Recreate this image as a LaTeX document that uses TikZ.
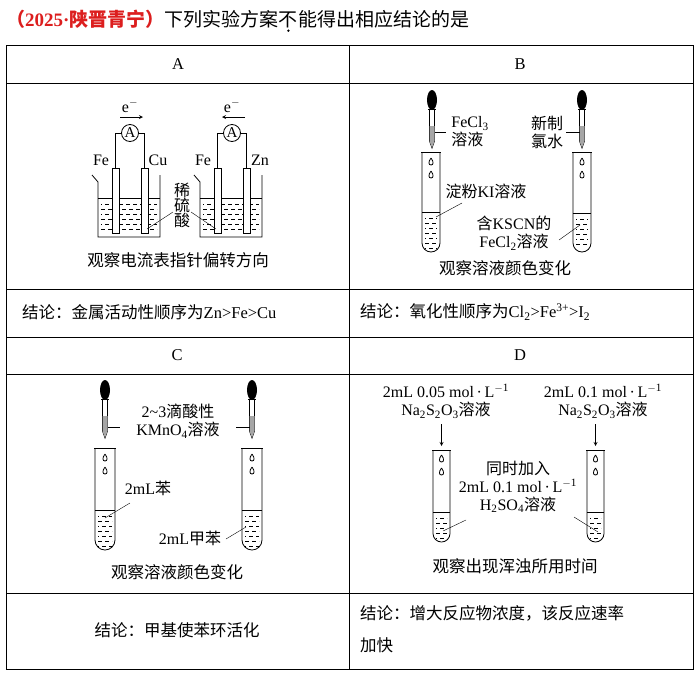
\documentclass[tikz,border=0pt]{standalone}
\usepackage{fontspec}
\setmainfont{Liberation Serif}
\newfontfamily\cn{Noto Sans CJK SC}
\definecolor{titlered}{RGB}{220,30,30}
\newcommand\ttube[4]{%
  \pgfmathsetmacro\rr{(#2-#1)/2}
  \draw[thick] (#1,#3) -- (#1,#4-\rr) arc (180:0:\rr) -- (#2,#3);
  \draw[thick] (#1-1,#3) -- (#2+1,#3);
}
\newcommand\liquid[4]{%
  \draw (#1,#3) -- (#2,#3);
  \pgfmathsetmacro\lqa{#3+6}\pgfmathsetmacro\lqb{#3+11}\pgfmathsetmacro\lqc{#4-4}
  \foreach \yy [count=\k] in {\lqa,\lqb,...,\lqc} {\pgfmathsetmacro\off{mod(\k,2)*3}
    \draw[dash pattern=on 4pt off 3pt,dash phase=\off pt] (#1+3,\yy) -- (#2-3,\yy);}
}
\newcommand\drops[2]{%
  \foreach \dy in {0,13} {\draw[thick] (#1,#2+\dy-4) .. controls (#1+3,#2+\dy) and (#1+2.5,#2+\dy+3) .. (#1,#2+\dy+3) .. controls (#1-2.5,#2+\dy+3) and (#1-3,#2+\dy) .. (#1,#2+\dy-4);}
}
\newcommand\dropper[3]{%
  \fill (#1,#2) ellipse (5 and 10);
  \draw[thick] (#1-2.5,#2+9) -- (#1-2.5,#3-7) -- (#1,#3) -- (#1+2.5,#3-7) -- (#1+2.5,#2+9);
  \draw (#1-4,#2+9) -- (#1+4,#2+9);
  \fill[gray!70] (#1-2.5,#3-22) -- (#1-2.5,#3-7) -- (#1,#3) -- (#1+2.5,#3-7) -- (#1+2.5,#3-22) -- cycle;
}
\newcommand\beaker[4]{%
  \draw[thick] (#1-6,#3-3) -- (#1,#3+4) -- (#1,#4) -- (#2,#4) -- (#2,#3-3);
}
\newcommand\electrode[3]{%
  \draw[thick,fill=white] (#1-3.5,#2) rectangle (#1+3.5,#3);
}
\tikzset{lab/.style={inner sep=0pt,font=\fontsize{16}{18}\selectfont,align=center},
  capt/.style={inner sep=0pt,font=\fontsize{16.5}{19}\selectfont},
  ttl/.style={inner sep=0pt,anchor=base west,font=\fontsize{19}{21}\selectfont},
  amm/.style={circle,draw,thick,fill=white,minimum size=17pt,inner sep=0pt,font=\fontsize{15}{15}\selectfont}}
\begin{document}
\begin{tikzpicture}[x=1pt,y=-1pt]
\useasboundingbox (0,0) rectangle (698,675);
\node[ttl] (t1) at (6,26)
  {\textcolor{titlered}{\bfseries{\cn （}2025·{\cn 陕晋青宁）}}{\cn 下列实验方案}};
\node[ttl] (t2) at (t1.base east) {\cn 不};
\node[ttl] (t3) at (t2.base east) {\cn 能得出相应结论的是};
\fill ([yshift=-3pt]t2.south) circle (1.3);
\draw[thick] (6.5,45) rectangle (693,669);
\foreach \yy in {83,289,337,374,593} \draw (6.5,\yy) -- (693,\yy);
\draw (349,45) -- (349,669);
\node[capt] (hA) at (178,64) {A};
\node[capt] (hB) at (520,64) {B};
\node[capt] (hC) at (177,355) {C};
\node[capt] (hD) at (520,355) {D};
\node[capt,anchor=west] (cA) at (22,312) {{\cn 结论：金属活动性顺序为}Zn>Fe>Cu};
\node[capt,anchor=west] (cB) at (360,312) {{\cn 结论：氧化性顺序为}Cl\textsubscript{2}>Fe\textsuperscript{3+}>I\textsubscript{2}};
\node[capt] (cC) at (177,630) {\cn 结论：甲基使苯环活化};
\node[capt,anchor=west] (cD1) at (360,613) {\cn 结论：增大反应物浓度，该反应速率};
\node[capt,anchor=west] (cD2) at (360,645) {\cn 加快};
% ---- A ----
\foreach \ox/\la/\lb in {0/Fe/Cu,102/Fe/Zn}{
  \begin{scope}[xshift=\ox]
  \liquid{98}{160}{198}{237}
  \beaker{98}{160}{178}{237}
  \electrode{115.5}{168}{233}
  \electrode{144.5}{168}{233}
  \draw[thick] (115.5,168) -- (115.5,133) -- (144.5,133) -- (144.5,168);
  \node[amm] at (130,133) {A};
  \node[lab] at (130,106) {e\textsuperscript{$-$}};
  \node[lab] at (101,160) {\la};
  \node[lab] at (158,160) {\lb};
  \end{scope}}
\draw[thick,-stealth] (120,117) -- (143,117);
\draw[thick,-stealth] (245,117) -- (222,117);
\node[lab] (xi) at (182,205) {\cn 稀\\[-3pt]\cn 硫\\[-3pt]\cn 酸};
\draw (173,212) -- (147,229);
\draw (191,212) -- (216,229);
\node[capt] (capA) at (178,260) {\cn 观察电流表指针偏转方向};
% ---- B ----
\liquid{422}{440}{212}{252}
\ttube{422}{440}{152}{252}
\drops{431}{162}
\dropper{432}{100}{148}
\liquid{573}{591}{213}{252}
\ttube{573}{591}{152}{252}
\drops{582}{162}
\dropper{582}{100}{148}
\node[lab,align=left] (fecl3) at (470,132) {FeCl\textsubscript{3}\\{\cn 溶液}};
\draw (435,132) -- (446,132);
\node[lab] (xz) at (547,132) {\cn 新制\\\cn 氯水};
\draw (566,132) -- (580,132);
\node[lab] (kI) at (486,191) {{\cn 淀粉}KI{\cn 溶液}};
\draw (462,203) -- (436,217);
\node[lab] (kscn) at (514,233) {{\cn 含}KSCN{\cn 的}\\FeCl\textsubscript{2}{\cn 溶液}};
\draw (559,240) -- (580,225);
\node[capt] (capB) at (505,268) {\cn 观察溶液颜色变化};
% ---- C ----
\liquid{95}{115}{510}{550}
\ttube{95}{115}{448}{550}
\drops{105}{458}
\dropper{105}{390}{438}
\liquid{242}{262}{510}{550}
\ttube{242}{262}{448}{550}
\drops{252}{458}
\dropper{252}{390}{438}
\node[lab] (kmno4) at (178,421) {2\textasciitilde3{\cn 滴酸性}\\KMnO\textsubscript{4}{\cn 溶液}};
\draw (108,427) -- (120,427);
\draw (236,427) -- (250,427);
\node[lab] (ben) at (148,488) {2mL{\cn 苯}};
\draw (130,503) -- (105,518);
\node[lab] (jb) at (190,538) {2mL{\cn 甲苯}};
\draw (226,539) -- (246,527);
\node[capt] (capC) at (177,572) {\cn 观察溶液颜色变化};
% ---- D ----
\liquid{433}{450}{512}{542}
\ttube{433}{450}{450}{542}
\drops{441.5}{459}
\liquid{587}{604}{512}{542}
\ttube{587}{604}{450}{542}
\drops{595.5}{459}
\node[lab] (d1) at (446,401) {2mL 0.05 mol{\,}·{\,}L\textsuperscript{$-$1}\\Na\textsubscript{2}S\textsubscript{2}O\textsubscript{3}{\cn 溶液}};
\node[lab] (d2) at (603,401) {2mL 0.1 mol{\,}·{\,}L\textsuperscript{$-$1}\\Na\textsubscript{2}S\textsubscript{2}O\textsubscript{3}{\cn 溶液}};
\draw[thick,-stealth] (441.5,424) -- (441.5,446);
\draw[thick,-stealth] (595.5,424) -- (595.5,446);
\node[lab] (d3) at (518,487) {{\cn 同时加入}\\2mL 0.1 mol{\,}·{\,}L\textsuperscript{$-$1}\\H\textsubscript{2}SO\textsubscript{4}{\cn 溶液}};
\draw (466,520) -- (443,531);
\draw (574,517) -- (598,532);
\node[capt] (capD) at (515,566) {\cn 观察出现浑浊所用时间};
\end{tikzpicture}
\end{document}
